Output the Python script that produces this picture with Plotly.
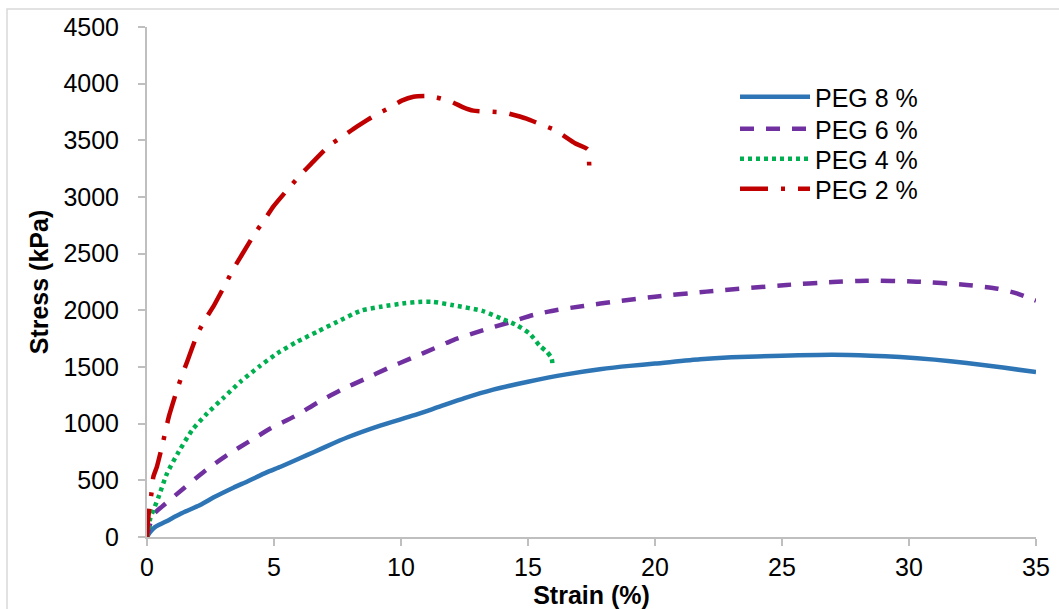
import plotly.graph_objects as go

# Tensile stress-strain curves of hydrogels with different PEG content
strain_peg8 = [0, 0.05, 0.15, 0.3, 0.5, 0.77, 1.32, 2.09, 2.63, 3.4, 3.95, 4.71, 5.26, 6.02,
               6.58, 7.07, 7.9, 9.21, 10.53, 11.45, 12.5, 13.63, 15, 16.5, 17.83, 19, 20,
               21.77, 23, 25, 27, 28.5, 29.65, 31, 32.27, 33.7, 35]
stress_peg8 = [0, 20, 50, 85, 110, 140, 205, 282, 350, 435, 490, 570, 620, 695,
               750, 800, 880, 985, 1075, 1145, 1225, 1300, 1370, 1435, 1480, 1510, 1530,
               1568, 1585, 1600, 1608, 1600, 1588, 1565, 1535, 1495, 1455]

strain_peg6 = [0, 0.08, 0.26, 0.6, 1.45, 2.24, 3.16, 4.01, 4.87, 5.79, 6.71, 7.63, 8.55,
               9.47, 10.4, 11.32, 12.06, 13.24, 14.23, 15.21, 16.13, 17.18, 18.5, 20, 22.03,
               25.18, 27, 28.33, 30.3, 32.27, 33.5, 34.24, 35]
stress_peg6 = [0, 80, 200, 270, 430, 576, 724, 841, 959, 1062, 1185, 1297, 1391,
               1488, 1577, 1665, 1738, 1826, 1891, 1959, 2003, 2038, 2080, 2120, 2165,
               2224, 2250, 2262, 2253, 2224, 2190, 2150, 2085]

strain_peg4 = [0, 0.05, 0.13, 0.31, 0.46, 0.79, 1.25, 1.78, 2.37, 3.03, 3.68, 4.41, 5.13,
               5.92, 6.71, 7.5, 8.42, 9.21, 10.13, 10.69, 11.21, 12.06, 13.2, 14.03, 14.55,
               15.08, 15.47, 15.74, 15.93, 15.97]
stress_peg4 = [0, 60, 165, 270, 356, 562, 753, 944, 1091, 1232, 1370, 1503, 1621,
               1724, 1812, 1900, 1997, 2032, 2062, 2074, 2076, 2045, 1995, 1920, 1870,
               1791, 1685, 1635, 1576, 1503]

strain_peg2 = [0, 0.03, 0.09, 0.18, 0.25, 0.39, 0.59, 0.86, 1.18, 1.37, 1.58, 1.97, 2.26,
               2.61, 3.14, 3.4, 3.73, 4.25, 4.62, 4.97, 5.63, 6.05, 6.48, 7.2, 7.69, 8.26,
               9.04, 9.53, 10.03, 10.49, 10.94, 11.4, 11.99, 12.45, 12.85, 13.48, 14.09,
               14.94, 15.5, 16.06, 16.85, 17.35, 17.41, 17.41]
stress_peg2 = [0, 120, 253, 391, 532, 620, 797, 1062, 1297, 1421, 1547, 1782, 1909,
               2032, 2253, 2365, 2488, 2680, 2797, 2915, 3091, 3197, 3297, 3459, 3532, 3621,
               3730, 3785, 3850, 3885, 3891, 3879, 3840, 3791, 3762, 3753, 3744,
               3691, 3641, 3591, 3474, 3421, 3282, 3238]

series_names = ["PEG 8 %", "PEG 6 %", "PEG 4 %", "PEG 2 %"]
x_ticks = [0, 5, 10, 15, 20, 25, 30, 35]
y_ticks = [0, 500, 1000, 1500, 2000, 2500, 3000, 3500, 4000, 4500]

FONT = "Liberation Sans, Arial, sans-serif"
AXIS_GREY = "#BFBFBF"

W, H = 1059, 609
ML, MR, MT, MB = 147, 23, 27, 72
PW, PH = W - ML - MR, H - MT - MB


def px_to_paper_x(px):
    return (px - ML) / PW


def px_to_paper_y(py):
    return (H - MB - py) / PH


styles = [
    dict(color="#2E75B6", width=4.5, dash="solid", shape="spline", smoothing=0.6),
    dict(color="#7030A0", width=4.5, dash="14px,12px", shape="spline", smoothing=0.6),
    dict(color="#00B050", width=4.5, dash="4px,4px", shape="spline", smoothing=0.6),
    dict(color="#C00000", width=4.5, dash="28px,13px,4px,13px", shape="spline", smoothing=0.4),
]
data = [
    (strain_peg8, stress_peg8),
    (strain_peg6, stress_peg6),
    (strain_peg4, stress_peg4),
    (strain_peg2, stress_peg2),
]
legend_ids = ["legend", "legend2", "legend3", "legend4"]
legend_rows_px = [97, 129, 159, 189]

fig = go.Figure()
for (xs, ys), name, st, lid in zip(data, series_names, styles, legend_ids):
    fig.add_trace(go.Scatter(x=xs, y=ys, mode="lines", name=name, line=st,
                             legend=lid, hoverinfo="skip"))

legend_common = dict(
    font=dict(family=FONT, size=25, color="black"),
    itemwidth=70,
    bgcolor="rgba(0,0,0,0)",
    borderwidth=0,
    xanchor="left",
    yanchor="middle",
    x=px_to_paper_x(735),
)
layout_legends = {}
for lid, row in zip(legend_ids, legend_rows_px):
    layout_legends[lid] = dict(legend_common, y=px_to_paper_y(row))

axis_common = dict(
    showline=True, linecolor=AXIS_GREY, linewidth=2,
    ticks="outside", ticklen=7, tickwidth=2, tickcolor=AXIS_GREY,
    showgrid=False, zeroline=False, automargin=False,
    tickfont=dict(family=FONT, size=25, color="black"),
)

fig.update_layout(
    width=W, height=H,
    margin=dict(l=ML, r=MR, t=MT, b=MB, autoexpand=False),
    paper_bgcolor="white", plot_bgcolor="white",
    font=dict(family=FONT, color="black"),
    showlegend=True,
    xaxis=dict(axis_common, range=[0, 35], tickvals=x_ticks, ticklabelstandoff=0,
               title=dict(text="<b>Strain (%)</b>", standoff=14,
                          font=dict(family=FONT, size=25, color="black"))),
    yaxis=dict(axis_common, range=[0, 4500], tickvals=y_ticks, ticklabelstandoff=14,
               title=dict(text="<b>Stress (kPa)</b>", standoff=8,
                          font=dict(family=FONT, size=25, color="black"))),
    shapes=[dict(type="rect", xref="paper", yref="paper",
                 x0=px_to_paper_x(7), x1=px_to_paper_x(1075),
                 y0=px_to_paper_y(625), y1=px_to_paper_y(9),
                 line=dict(color="#D9D9D9", width=1.5), layer="below")],
    **layout_legends,
)

fig.write_html("out.html")
